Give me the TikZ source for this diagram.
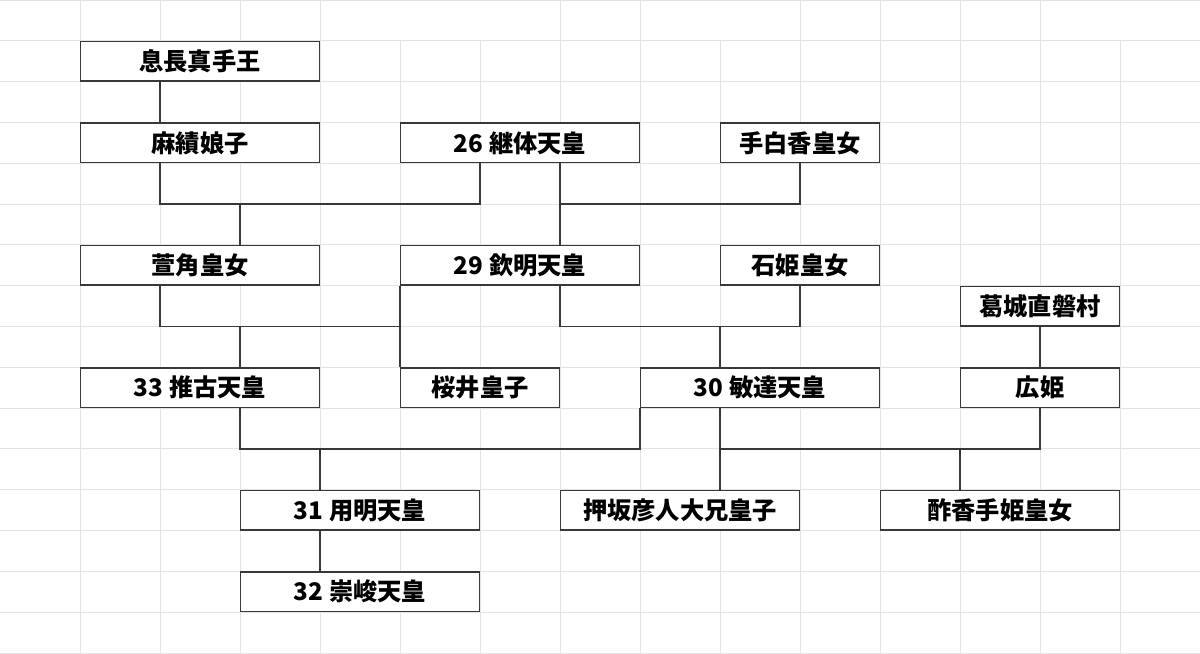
\documentclass[tikz,border=0pt]{standalone}
\usepackage{fontspec}
\setmainfont{Noto Sans CJK JP}
\begin{document}
\begin{tikzpicture}[x=1.6cm,y=-0.81625cm,
  gridline/.style={draw=black!11,line width=0.55pt},
  pbox/.style={draw=black!78,fill=white,line width=0.75pt,inner sep=0pt,
    minimum width=#1*1.6cm-0.75pt,minimum height=0.81625cm-0.75pt,
    font=\fontsize{13.8pt}{16pt}\selectfont\bfseries},
  conn/.style={draw=black!78,line width=0.75pt}]
\useasboundingbox (0,0) rectangle (15,16);
\fill[white] (0,0) rectangle (15,16);
% grid
\foreach \y in {0,...,16} \draw[gridline] (0,\y) -- (15,\y);
\foreach \x in {1,2,3,4,7,8,10,11,12,13,15} \draw[gridline] (\x,0) -- (\x,1);
\foreach \x in {1,...,15} \draw[gridline] (\x,1) -- (\x,16);
% helper coordinates
\foreach \x in {2,...,13} \coordinate (X\x) at (\x,0);
\coordinate (Y5) at (0,5);
\coordinate (Y8) at (0,8);
\coordinate (Y11) at (0,11);
% boxes
\node[pbox=3] (a) at (2.5,1.5) {息長真手王};
\node[pbox=3] (b) at (2.5,3.5) {麻績娘子};
\node[pbox=3] (c) at (6.5,3.5) {26 継体天皇};
\node[pbox=2] (d) at (10,3.5) {手白香皇女};
\node[pbox=3] (e) at (2.5,6.5) {萱角皇女};
\node[pbox=3] (f) at (6.5,6.5) {29 欽明天皇};
\node[pbox=2] (g) at (10,6.5) {石姫皇女};
\node[pbox=2] (h) at (13,7.5) {葛城直磐村};
\node[pbox=3] (i) at (2.5,9.5) {33 推古天皇};
\node[pbox=2] (j) at (6,9.5) {桜井皇子};
\node[pbox=3] (k) at (9.5,9.5) {30 敏達天皇};
\node[pbox=2] (l) at (13,9.5) {広姫};
\node[pbox=3] (m) at (4.5,12.5) {31 用明天皇};
\node[pbox=3] (n) at (8.5,12.5) {押坂彦人大兄皇子};
\node[pbox=3] (o) at (12.5,12.5) {酢香手姫皇女};
\node[pbox=3] (p) at (4.5,14.5) {32 崇峻天皇};
% connectors
\draw[conn] (a.south -| X2) -- (b.north -| X2);
\draw[conn] (b.south -| X2) -- (X2 |- Y5) -- (X6 |- Y5) -- (c.south -| X6);
\draw[conn] (X3 |- Y5) -- (e.north -| X3);
\draw[conn] (c.south -| X7) -- (X7 |- Y5) -- (X10 |- Y5) -- (d.south -| X10);
\draw[conn] (X7 |- Y5) -- (f.north -| X7);
\draw[conn] (e.south -| X2) -- (X2 |- Y8) -- (X5 |- Y8) -- (f.south -| X5);
\draw[conn] (X3 |- Y8) -- (i.north -| X3);
\draw[conn] (X5 |- Y8) -- (j.north -| X5);
\draw[conn] (f.south -| X7) -- (X7 |- Y8) -- (X10 |- Y8) -- (g.south -| X10);
\draw[conn] (X9 |- Y8) -- (k.north -| X9);
\draw[conn] (h.south -| X13) -- (l.north -| X13);
\draw[conn] (i.south -| X3) -- (X3 |- Y11) -- (X8 |- Y11) -- (k.south -| X8);
\draw[conn] (X4 |- Y11) -- (m.north -| X4);
\draw[conn] (k.south -| X9) -- (X9 |- Y11) -- (X13 |- Y11) -- (l.south -| X13);
\draw[conn] (X9 |- Y11) -- (n.north -| X9);
\draw[conn] (X12 |- Y11) -- (o.north -| X12);
\draw[conn] (m.south -| X4) -- (p.north -| X4);
\end{tikzpicture}
\end{document}
